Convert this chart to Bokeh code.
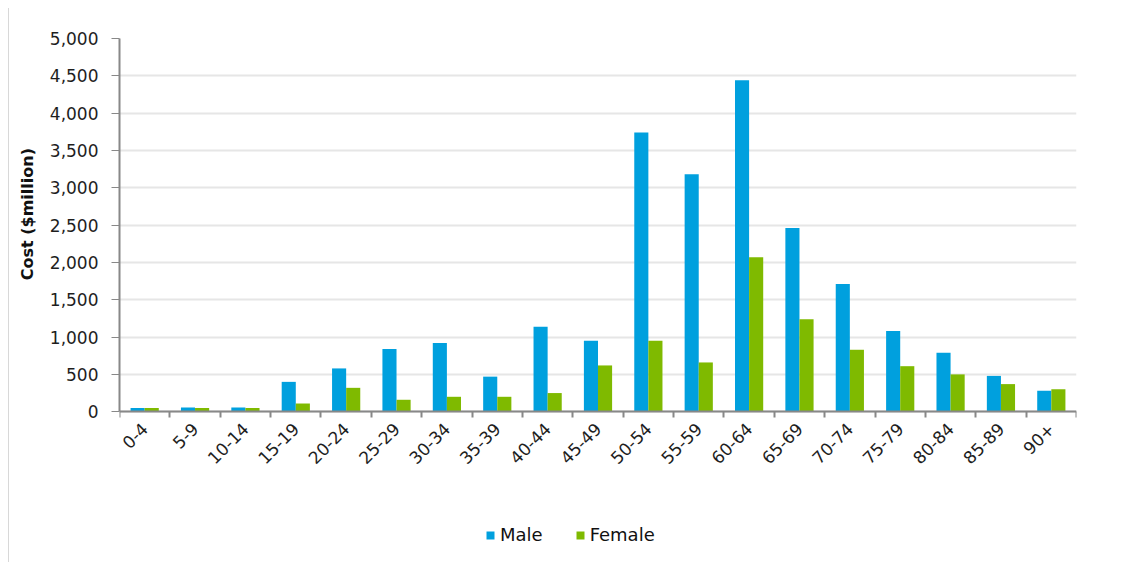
from bokeh.plotting import figure
from bokeh.models import FixedTicker, NumeralTickFormatter, Legend, LegendItem, ColumnDataSource, Range1d
from bokeh.embed import file_html
from bokeh.resources import INLINE
import math

categories = ["0-4", "5-9", "10-14", "15-19", "20-24", "25-29", "30-34", "35-39", "40-44",
              "45-49", "50-54", "55-59", "60-64", "65-69", "70-74", "75-79", "80-84", "85-89", "90+"]
male = [50, 55, 55, 400, 580, 840, 920, 470, 1140, 950, 3740, 3180, 4440, 2460, 1710, 1080, 790, 480, 280]
female = [50, 50, 50, 110, 320, 160, 200, 200, 250, 620, 950, 660, 2070, 1240, 830, 610, 500, 370, 300]
y_ticks = [0, 500, 1000, 1500, 2000, 2500, 3000, 3500, 4000, 4500, 5000]
y_title = "Cost ($million)"

BLUE = "#00A0DE"
GREEN = "#7FBA00"
FONT = "DejaVu Sans"
Y_MAX = 5000
Y_MIN_VIEW = -2020  # empty room below the axis for rotated labels and legend
TITLE_PAD = "\u00a0" * 31  # lifts the centred axis title to the middle of the 0..5000 span

idx = list(range(len(categories)))
src = ColumnDataSource(dict(
    xm=[i + 0.5 - 0.14 for i in idx],
    xf=[i + 0.5 + 0.14 for i in idx],
    male=male, female=female,
))

p = figure(width=1107, output_backend="svg", toolbar_location=None,
           x_range=Range1d(0, len(categories)), y_range=Range1d(Y_MIN_VIEW, Y_MAX),
           frame_width=957, frame_height=524,
           min_border_left=110, min_border_right=40, min_border_top=30, min_border_bottom=0)
p.styles = {"margin-left": "8px", "margin-top": "8px", "border-left": "1px solid #d8d8d8"}
p.outline_line_color = None

rm = p.vbar(x="xm", top="male", width=0.28, source=src, fill_color=BLUE, line_color=None)
rf = p.vbar(x="xf", top="female", width=0.28, source=src, fill_color=GREEN, line_color=None)

# x axis, pinned at zero
p.xaxis.fixed_location = 0
p.xaxis.ticker = FixedTicker(ticks=[i + 0.5 for i in idx], minor_ticks=list(range(len(categories) + 1)))
p.xaxis.major_label_overrides = {i + 0.5: c for i, c in zip(idx, categories)}
p.xaxis.major_tick_line_color = None
p.xaxis.minor_tick_out = 6
p.xaxis.minor_tick_in = 0
p.xaxis.minor_tick_line_color = "#888888"
p.xaxis.minor_tick_line_width = 2
p.xaxis.axis_line_color = "#888888"
p.xaxis.axis_line_width = 2
p.xaxis.major_label_orientation = math.pi / 4
p.xaxis.major_label_text_font = FONT
p.xaxis.major_label_text_font_size = "17px"
p.xaxis.major_label_text_color = "#1e1e1e"
p.xaxis.major_label_standoff = 8

# y axis
p.yaxis.bounds = (0, Y_MAX)
p.yaxis.ticker = FixedTicker(ticks=y_ticks)
p.yaxis.formatter = NumeralTickFormatter(format="0,0")
p.yaxis.axis_line_color = "#888888"
p.yaxis.axis_line_width = 2
p.yaxis.major_tick_line_color = "#888888"
p.yaxis.major_tick_out = 8
p.yaxis.major_tick_in = 0
p.yaxis.minor_tick_line_color = None
p.yaxis.major_label_text_font = FONT
p.yaxis.major_label_text_font_size = "17px"
p.yaxis.major_label_text_color = "#1e1e1e"
p.yaxis.major_label_standoff = 13
p.yaxis.axis_label = TITLE_PAD + y_title
p.yaxis.axis_label_text_font = FONT
p.yaxis.axis_label_text_font_style = "bold"
p.yaxis.axis_label_text_font_size = "16px"
p.yaxis.axis_label_text_color = "#111111"
p.yaxis.axis_label_standoff = 10

p.xgrid.grid_line_color = None
p.ygrid.grid_line_color = "#e6e6e6"
p.ygrid.grid_line_width = 2

legend = Legend(items=[LegendItem(label="Male", renderers=[rm]), LegendItem(label="Female", renderers=[rf])],
                orientation="horizontal", border_line_color=None, background_fill_alpha=0,
                location=(366, 17),
                label_text_font=FONT, label_text_font_size="18px", label_text_color="#111111",
                glyph_width=10, glyph_height=10, spacing=32, label_standoff=5, padding=4, margin=0)
p.add_layout(legend, "center")

open("out.html", "w").write(file_html(p, INLINE))
